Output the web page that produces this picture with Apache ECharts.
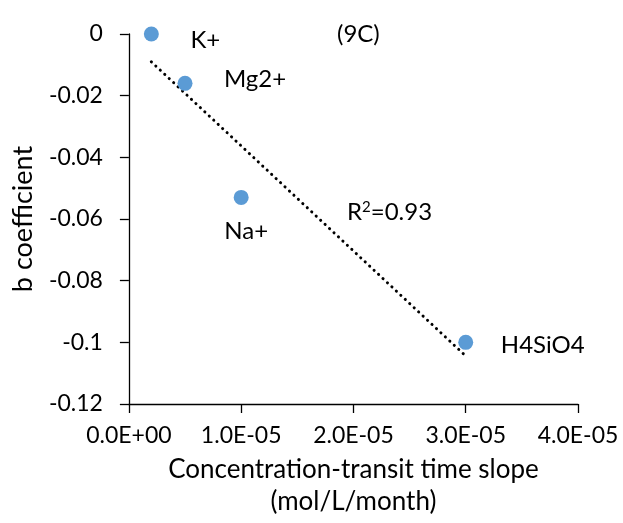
<!DOCTYPE html>
<html>
<head>
<meta charset="utf-8">
<script src="https://cdn.jsdelivr.net/npm/echarts@6/dist/echarts.min.js"></script>
<style>
html,body{margin:0;padding:0;background:#fff;}
#chart{width:623px;height:523px;}
</style>
</head>
<body>
<div id="chart"></div>
<script>
// ---- data ----
var ions = ['K+', 'Mg2+', 'Na+', 'H4SiO4'];
var slopes = [2.0e-6, 5.0e-6, 1.0e-5, 3.0e-5];      // mol/L/month
var bCoef = [0, -0.016, -0.053, -0.100];
var xTicks = [0, 1e-5, 2e-5, 3e-5, 4e-5];
var yTicks = [0, -0.02, -0.04, -0.06, -0.08, -0.1, -0.12];
var r2Text = '0.93';
var panelTag = '(9C)';

// ---- styling (not data) ----
var labelOffsets = [[54, 6], [70, -4], [5, 34], [77, 3]];
var FONT = 'Lato';

// linear regression trendline from the data
var n = slopes.length, mx = 0, my = 0;
for (var i = 0; i < n; i++) { mx += slopes[i]; my += bCoef[i]; }
mx /= n; my /= n;
var sxx = 0, sxy = 0;
for (var i = 0; i < n; i++) { sxx += (slopes[i]-mx)*(slopes[i]-mx); sxy += (slopes[i]-mx)*(bCoef[i]-my); }
var slope = sxy / sxx, icpt = my - slope * mx;
var xMin = Math.min.apply(null, slopes), xMax = Math.max.apply(null, slopes);
var trend = [[xMin, icpt + slope*xMin], [xMax, icpt + slope*xMax]];

function fmtSci(v) {
  if (Math.abs(v) < 1e-20) return '0.0E+00';
  var e = Math.floor(Math.log10(Math.abs(v)) + 1e-9);
  var m = v / Math.pow(10, e);
  var es = (e < 0 ? '-' : '+') + (Math.abs(e) < 10 ? '0' : '') + Math.abs(e);
  return m.toFixed(1) + 'E' + es;
}

var pts = slopes.map(function (x, i) {
  return {
    value: [x, bCoef[i]],
    name: ions[i],
    label: { offset: labelOffsets[i] }
  };
});

var chart = echarts.init(document.getElementById('chart'));
chart.setOption({
  animation: false,
  backgroundColor: '#fff',
  textStyle: { fontFamily: FONT },
  grid: { left: 126, right: 45, top: 34, bottom: 117, containLabel: false },
  xAxis: {
    type: 'value', min: xTicks[0], max: xTicks[xTicks.length-1], interval: xTicks[1]-xTicks[0],
    splitLine: { show: false },
    axisLine: { show: true, onZero: false, lineStyle: { color: '#000', width: 1.3 } },
    axisTick: { show: true, length: 9, lineStyle: { color: '#000', width: 1.3 } },
    axisLabel: { fontSize: 23, color: '#000', margin: 20, fontFamily: FONT, formatter: fmtSci },
    name: 'Concentration-transit time slope\n(mol/L/month)',
    nameLocation: 'middle', nameGap: 50,
    nameTextStyle: { fontSize: 26, color: '#000', lineHeight: 32, fontFamily: FONT }
  },
  yAxis: {
    type: 'value', min: yTicks[yTicks.length-1], max: yTicks[0], interval: 0.02,
    splitLine: { show: false },
    axisLine: { show: true, onZero: false, lineStyle: { color: '#000', width: 1.3 } },
    axisTick: { show: true, length: 9, lineStyle: { color: '#000', width: 1.3 } },
    axisLabel: { fontSize: 23, color: '#000', margin: 26, fontFamily: FONT,
      formatter: function (v) { return String(parseFloat(v.toFixed(2))); } },
    name: 'b coefficient',
    nameLocation: 'middle', nameGap: 89, nameRotate: 90,
    nameTextStyle: { fontSize: 27, color: '#000', lineHeight: 30, fontFamily: FONT }
  },
  series: [
    {
      type: 'line', data: trend, symbol: 'none', z: 1,
      lineStyle: { color: '#000', width: 3, type: [0.1, 6], cap: 'round' }
    },
    {
      type: 'scatter', data: pts, symbol: 'circle', symbolSize: 15, z: 2,
      itemStyle: { color: '#5B9BD5', opacity: 1 },
      label: {
        show: true, position: 'inside', align: 'center', verticalAlign: 'middle',
        color: '#000', opacity: 1, fontSize: 24, fontFamily: FONT,
        formatter: function (p) { return p.name; }
      }
    }
  ],
  graphic: [
    { type: 'text', left: 337, top: 22, style: { text: panelTag, font: '24px ' + FONT, fill: '#000' } },
    { type: 'text', left: 347, top: 200, style: {
        text: 'R{sup|2}=' + r2Text, font: '24px ' + FONT, fill: '#000',
        rich: { sup: { fontSize: 15, verticalAlign: 'top', padding: [0,0,10,0], fontFamily: FONT } }
    } }
  ]
});
</script>
</body>
</html>
